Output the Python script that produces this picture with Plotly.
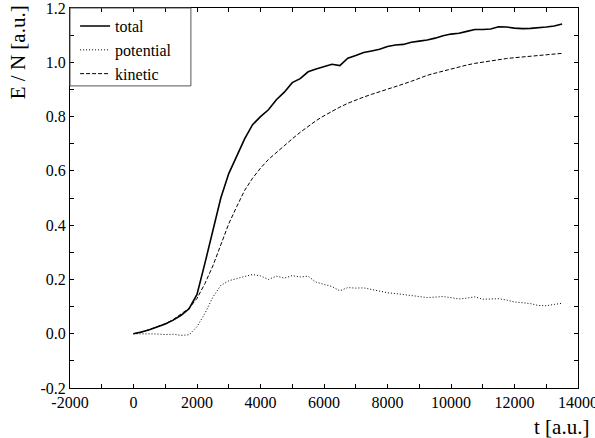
import plotly.graph_objects as go

t = [0, 250, 500, 750, 1000, 1250, 1500, 1750, 2000, 2250, 2500, 2750, 3000, 3250, 3500, 3750,
     4000, 4250, 4500, 4750, 5000, 5250, 5500, 5750, 6000, 6250, 6500, 6750, 7000, 7250, 7500,
     7750, 8000, 8250, 8500, 8750, 9000, 9250, 9500, 9750, 10000, 10250, 10500, 10750, 11000,
     11250, 11500, 11750, 12000, 12250, 12500, 12750, 13000, 13250, 13500]

total = [0.0, 0.006, 0.015, 0.026, 0.036, 0.05, 0.068, 0.092, 0.145, 0.26, 0.38, 0.50, 0.59,
         0.655, 0.718, 0.77, 0.80, 0.825, 0.862, 0.89, 0.925, 0.94, 0.965, 0.975, 0.985, 0.993,
         0.988, 1.015, 1.025, 1.036, 1.042, 1.048, 1.058, 1.064, 1.066, 1.074, 1.078, 1.082,
         1.089, 1.098, 1.104, 1.107, 1.114, 1.121, 1.121, 1.123, 1.131, 1.130, 1.126, 1.124,
         1.125, 1.127, 1.130, 1.134, 1.141]

potential = [0.0, 0.0, 0.001, -0.001, -0.003, -0.002, -0.006, -0.004, 0.026, 0.075, 0.135,
             0.178, 0.195, 0.204, 0.211, 0.218, 0.213, 0.200, 0.212, 0.205, 0.214, 0.209, 0.212,
             0.190, 0.183, 0.174, 0.158, 0.170, 0.168, 0.169, 0.163, 0.156, 0.151, 0.148, 0.145,
             0.142, 0.137, 0.133, 0.134, 0.137, 0.133, 0.128, 0.131, 0.136, 0.127, 0.128, 0.129,
             0.124, 0.117, 0.114, 0.111, 0.104, 0.103, 0.108, 0.112]

kinetic = [0.0, 0.006, 0.015, 0.025, 0.037, 0.052, 0.072, 0.094, 0.13, 0.185, 0.25, 0.325,
           0.405, 0.468, 0.528, 0.573, 0.61, 0.642, 0.668, 0.694, 0.718, 0.742, 0.764, 0.785,
           0.803, 0.82, 0.835, 0.849, 0.861, 0.872, 0.882, 0.891, 0.900, 0.910, 0.920, 0.930,
           0.942, 0.952, 0.960, 0.968, 0.976, 0.983, 0.990, 0.996, 1.001, 1.006, 1.010, 1.014,
           1.017, 1.020, 1.023, 1.026, 1.028, 1.030, 1.033]

x_tickvals = [-2000, 0, 2000, 4000, 6000, 8000, 10000, 12000, 14000]
x_ticktext = ["-2000", "0", "2000", "4000", "6000", "8000", "10000", "12000", "14000"]
y_tickvals = [-0.2, 0.0, 0.2, 0.4, 0.6, 0.8, 1.0, 1.2]
y_ticktext = ["-0.2", "0.0", "0.2", "0.4", "0.6", "0.8", "1.0", "1.2"]

FONT = "Liberation Serif"

fig = go.Figure()
fig.add_trace(go.Scatter(x=t, y=total, mode="lines", name="total",
                         line=dict(color="black", width=1.6)))
fig.add_trace(go.Scatter(x=t, y=potential, mode="lines", name="potential",
                         line=dict(color="black", width=1, dash="1px,2px")))
fig.add_trace(go.Scatter(x=t, y=kinetic, mode="lines", name="kinetic",
                         line=dict(color="black", width=1, dash="4px,2px")))

axis_common = dict(
    showline=True, linecolor="black", linewidth=1, mirror="allticks",
    ticks="inside", ticklen=4, tickcolor="black", tickwidth=1,
    showgrid=False, zeroline=False, ticklabeloverflow="allow", automargin=False,
    tickfont=dict(family=FONT, size=16, color="black"),
)

fig.update_xaxes(range=[-2000, 14000.01], tickvals=x_tickvals, ticktext=x_ticktext,
                 minor=dict(dtick=1000, tick0=0, ticks="inside", ticklen=4, tickcolor="black"),
                 **axis_common)
fig.update_yaxes(range=[-0.2, 1.2001], tickvals=y_tickvals, ticktext=y_ticktext,
                 minor=dict(dtick=0.1, tick0=0, ticks="inside", ticklen=4, tickcolor="black"),
                 **axis_common)

fig.add_shape(type="rect", xref="paper", yref="paper", x0=0, x1=0.238, y0=0.795, y1=1,
              line=dict(color="#555555", width=1), fillcolor="rgba(0,0,0,0)")

fig.add_annotation(text="E / N [a.u.]", xref="paper", yref="paper", x=-0.102, y=0.884,
                   textangle=-90, showarrow=False, xanchor="center", yanchor="middle",
                   font=dict(family=FONT, size=21, color="black"))
fig.add_annotation(text="t [a.u.]", xref="paper", yref="paper", x=0.967, y=-0.103,
                   showarrow=False, xanchor="center", yanchor="middle",
                   font=dict(family=FONT, size=21, color="black"))

fig.update_layout(
    width=595, height=438,
    margin=dict(l=70, r=17, t=8, b=50, autoexpand=False),
    paper_bgcolor="white", plot_bgcolor="white",
    showlegend=True,
    legend=dict(x=0.01, y=0.997, xanchor="left", yanchor="top",
                bgcolor="rgba(0,0,0,0)", borderwidth=0,
                font=dict(family=FONT, size=16, color="black"),
                itemwidth=30, tracegroupgap=0),
)

fig.write_html("out.html")
